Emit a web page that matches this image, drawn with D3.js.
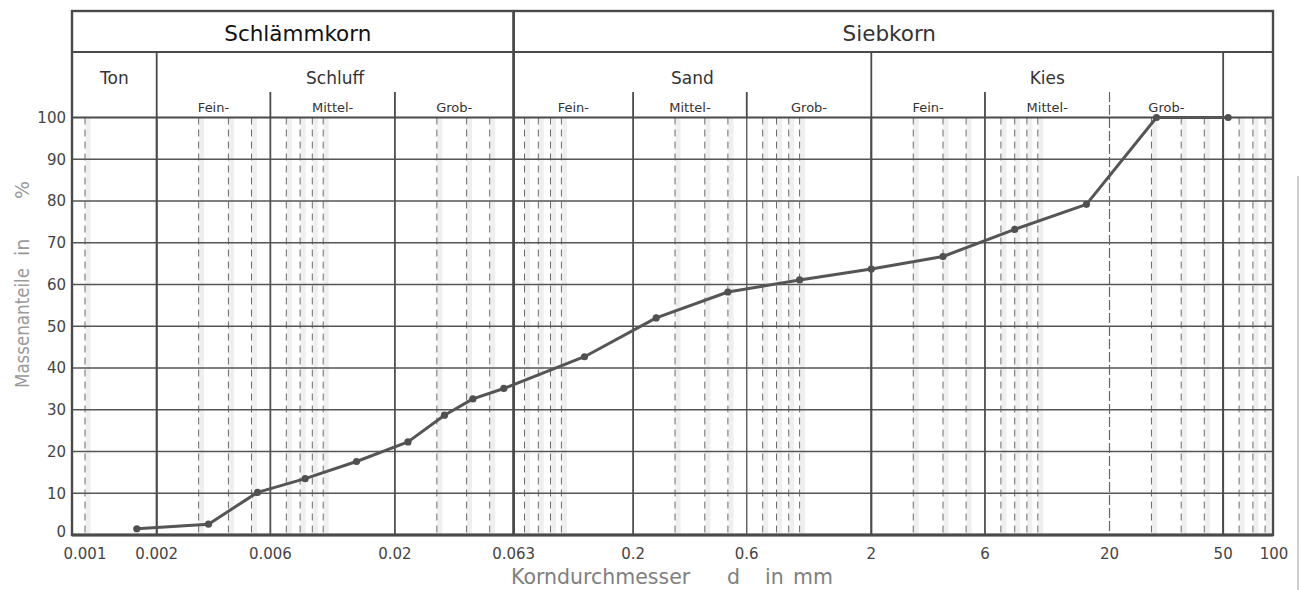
<!DOCTYPE html>
<html>
<head>
<meta charset="utf-8">
<script src="https://cdn.jsdelivr.net/npm/d3@7/dist/d3.min.js"></script>
<style>
  html, body { margin: 0; padding: 0; background: #fff; }
  svg { display: block; font-family: "DejaVu Sans", sans-serif; }
</style>
</head>
<body>
<svg id="chart" width="1302" height="590"></svg>
<script>
// ---------- data ----------
const grainSize = [0.00165, 0.0033, 0.0053, 0.0084, 0.0138, 0.0227, 0.0323, 0.0425, 0.0573,
                   0.125, 0.25, 0.5, 1, 2, 4, 8, 16, 31.5, 63];
const passing   = [1.5, 2.6, 10.2, 13.5, 17.6, 22.3, 28.7, 32.6, 35.1,
                   42.7, 52.0, 58.2, 61.1, 63.7, 66.7, 73.2, 79.2, 100, 100];

const xTickValues = [0.001, 0.002, 0.006, 0.02, 0.063, 0.2, 0.6, 2, 6, 20, 60, 100];
const xTickLabels = ["0.001", "0.002", "0.006", "0.02", "0.063", "0.2", "0.6", "2", "6", "20", "50", "100"];
const yTickValues = [0, 10, 20, 30, 40, 50, 60, 70, 80, 90, 100];

const majorGridValues = [0.002, 0.006, 0.02, 0.2, 0.6, 2, 6, 60];
const thinGridValues  = [20];
const boundaryValue   = 0.063;
const minorMultipliers = [1, 3, 4, 5, 7, 8, 9];
const decades = [0.001, 0.01, 0.1, 1, 10];

const topClasses    = ["Schlämmkorn", "Siebkorn"];
const topBounds     = [null, 0.063, null];
const midClasses    = ["Ton", "Schluff", "Sand", "Kies", ""];
const midBounds     = [null, 0.002, 0.063, 2, 60, null];
const subLabels     = ["Fein-", "Mittel-", "Grob-"];
const subGroups     = [[0.002, 0.006, 0.02, 0.063], [0.063, 0.2, 0.6, 2], [2, 6, 20, 60]];

// ---------- layout ----------
const W = 1302, H = 590;
const plotLeft = 72, plotRight = 1273;
const headTop = 11, headRow1 = 52, headSub = 92, plotTop = 117.5, plotBottom = 535;

const svg = d3.select("#chart");
const x = d3.scaleLog().domain([0.001, 100]).range([85, 1276]);
const y = d3.scaleLinear().domain([0, 100]).range([plotBottom, plotTop]);

const lineCol = "#4a4a4a";

// minor dashed grid (with faint scan-like bands)
const minorVals = [];
decades.forEach(d => minorMultipliers.forEach(m => {
  const v = d * m;
  if (x(v) > plotLeft + 2 && x(v) < plotRight - 2) minorVals.push(v);
}));
svg.append("g").selectAll("line").data(minorVals).join("line")
  .attr("x1", d => x(d) + 3).attr("x2", d => x(d) + 3)
  .attr("y1", plotTop).attr("y2", plotBottom)
  .attr("stroke", "#efefef").attr("stroke-width", 5);
svg.append("g").selectAll("line").data(minorVals).join("line")
  .attr("x1", d => x(d)).attr("x2", d => x(d))
  .attr("y1", plotTop).attr("y2", plotBottom)
  .attr("stroke", "#6a6a6a").attr("stroke-width", 1)
  .attr("stroke-dasharray", "7,5");

// horizontal grid
svg.append("g").selectAll("line").data(yTickValues.filter(v => v > 0 && v < 100)).join("line")
  .attr("x1", plotLeft).attr("x2", plotRight)
  .attr("y1", d => y(d)).attr("y2", d => y(d))
  .attr("stroke", "#555").attr("stroke-width", 1.6);

// major vertical grid
svg.append("g").selectAll("line").data(majorGridValues).join("line")
  .attr("x1", d => x(d)).attr("x2", d => x(d))
  .attr("y1", plotTop).attr("y2", plotBottom)
  .attr("stroke", "#505050").attr("stroke-width", d => d === 0.6 ? 1.3 : 1.8);
svg.append("g").selectAll("line").data(thinGridValues).join("line")
  .attr("x1", d => x(d)).attr("x2", d => x(d))
  .attr("y1", headSub).attr("y2", plotBottom)
  .attr("stroke", "#666").attr("stroke-width", 1.2)
  .attr("stroke-dasharray", "10,3");

// header vertical lines
svg.append("g").selectAll("line").data(midBounds.filter(v => v !== null)).join("line")
  .attr("x1", d => x(d)).attr("x2", d => x(d))
  .attr("y1", d => d === boundaryValue ? headTop : headRow1).attr("y2", plotBottom)
  .attr("stroke", lineCol).attr("stroke-width", d => d === boundaryValue ? 2.8 : 1.8);
subGroups.forEach(g => {
  svg.append("g").selectAll("line").data(g.slice(1, 3).filter(v => thinGridValues.indexOf(v) < 0)).join("line")
    .attr("x1", d => x(d)).attr("x2", d => x(d))
    .attr("y1", headSub).attr("y2", plotTop)
    .attr("stroke", lineCol).attr("stroke-width", 1.8);
});

// horizontal header lines
svg.append("line").attr("x1", plotLeft).attr("x2", plotRight)
  .attr("y1", headRow1).attr("y2", headRow1).attr("stroke", lineCol).attr("stroke-width", 2);
svg.append("line").attr("x1", plotLeft).attr("x2", plotRight)
  .attr("y1", plotTop).attr("y2", plotTop).attr("stroke", lineCol).attr("stroke-width", 1.8);

// frame
svg.append("rect").attr("x", plotLeft).attr("y", headTop)
  .attr("width", plotRight - plotLeft).attr("height", plotBottom - headTop)
  .attr("fill", "none").attr("stroke", lineCol).attr("stroke-width", 2.4);
svg.append("line").attr("x1", plotLeft).attr("x2", plotRight)
  .attr("y1", plotBottom).attr("y2", plotBottom).attr("stroke", lineCol).attr("stroke-width", 3);

// header text
const cellCenter = (a, b) => ((a === null ? plotLeft : x(a)) + (b === null ? plotRight : x(b))) / 2;
topClasses.forEach((t, i) => {
  svg.append("text").attr("x", cellCenter(topBounds[i], topBounds[i + 1]) + (i === 0 ? 5 : -4))
    .attr("y", 41).attr("text-anchor", "middle")
    .attr("font-size", 21.5).attr("fill", i === 0 ? "#111" : "#333").text(t);
});
midClasses.forEach((t, i) => {
  svg.append("text").attr("x", cellCenter(midBounds[i], midBounds[i + 1]))
    .attr("y", 84).attr("text-anchor", "middle")
    .attr("font-size", 17).attr("fill", "#333").text(t);
});
subGroups.forEach(g => {
  subLabels.forEach((t, i) => {
    svg.append("text").attr("x", cellCenter(g[i], g[i + 1]))
      .attr("y", 112).attr("text-anchor", "middle")
      .attr("font-size", 13).attr("fill", "#333").text(t);
  });
});

// axis tick labels
svg.append("g").selectAll("text").data(yTickValues).join("text")
  .attr("x", 66).attr("y", d => y(d)).attr("dy", d => d === 0 ? "0.1em" : "0.36em")
  .attr("text-anchor", "end").attr("font-size", 15).attr("fill", "#444").text(d => d);
svg.append("g").selectAll("text").data(xTickValues).join("text")
  .attr("x", (d, i) => i === xTickValues.length - 1 ? plotRight + 1 : x(d))
  .attr("y", 559).attr("text-anchor", "middle")
  .attr("font-size", 15).attr("fill", "#444").text((d, i) => xTickLabels[i]);

// axis titles
const xt = svg.append("g").attr("fill", "#808080").attr("font-size", 20.5);
xt.append("text").attr("x", 511).attr("y", 584).text("Korndurchmesser");
xt.append("text").attr("x", 727).attr("y", 584).text("d");
xt.append("text").attr("x", 765).attr("y", 584).text("in");
xt.append("text").attr("x", 793).attr("y", 584).text("mm");
const yt = svg.append("g").attr("fill", "#9a9a9a").attr("font-size", 19)
  .attr("transform", "translate(29,0) rotate(-90)");
yt.append("text").attr("x", -388).attr("y", 0)
  .attr("textLength", 120).attr("lengthAdjust", "spacingAndGlyphs").text("Massenanteile");
yt.append("text").attr("x", -256).attr("y", 0).text("in");
yt.append("text").attr("x", -199).attr("y", 0).text("%");

// scan edge on the right
svg.append("line").attr("x1", 1298).attr("x2", 1298).attr("y1", 176).attr("y2", 590)
  .attr("stroke", "#cfcfcf").attr("stroke-width", 2);

// curve
const pts = grainSize.map((g, i) => [g, passing[i]]);
svg.append("path").datum(pts)
  .attr("d", d3.line().x(d => x(d[0])).y(d => y(d[1])))
  .attr("fill", "none").attr("stroke", "#555").attr("stroke-width", 3)
  .attr("stroke-linejoin", "round");
svg.append("g").selectAll("circle").data(pts).join("circle")
  .attr("cx", d => x(d[0])).attr("cy", d => y(d[1])).attr("r", 3.6)
  .attr("fill", "#505050");
</script>
</body>
</html>
